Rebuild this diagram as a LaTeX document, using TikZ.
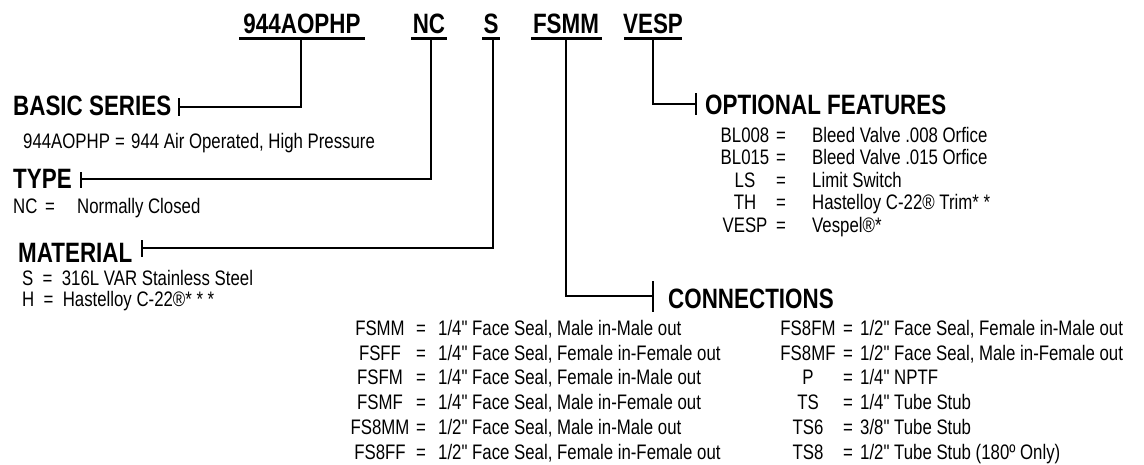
\documentclass[tikz,border=0pt]{standalone}
\usepackage{fontspec}
\setmainfont{Liberation Sans}[FakeStretch=0.8,Ligatures=TeXOff]
\begin{document}
\begin{tikzpicture}[x=1pt,y=-1pt,
  hdr/.style={font=\fontsize{28}{30}\selectfont\bfseries,inner sep=0pt,anchor=base west},
  code/.style={font=\fontsize{28}{30}\selectfont\bfseries,inner sep=0pt,anchor=base},
  txt/.style={font=\fontsize{21}{24}\selectfont,inner sep=0pt,anchor=base west},
  ln/.style={line width=1.5pt},
  uline/.style={line width=2.4pt},
  tick/.style={line width=1.8pt}]
\useasboundingbox (0,0) rectangle (1144,464);
\newcommand\crow[7]{%
  \node[txt,anchor=base] (#1c) at (#2,#5) {#6};
  \node[txt,anchor=base] (#1e) at (#3,#5) {=};
  \node[txt,anchor=base west] (#1d) at (#4,#5) {#7};}
% top code
\node[code] (k944) at (302,33) {944AOPHP};
\node[code] (knc) at (429,33) {NC};
\node[code] (ks) at (491,33) {S};
\node[code] (kfsmm) at (566,33) {FSMM};
\node[code] (kvesp) at (653,33) {VESP};
\draw[uline] (239,38.5) -- (365,38.5);
\draw[uline] (411,38.5) -- (447,38.5);
\draw[uline] (482,38.5) -- (500,38.5);
\draw[uline] (531,38.5) -- (602,38.5);
\draw[uline] (624,38.5) -- (682,38.5);
\coordinate (c944) at (301,38.5);
\coordinate (cnc) at (431,38.5);
\coordinate (cs) at (493,38.5);
\coordinate (cfsmm) at (566,38.5);
\coordinate (cvesp) at (653,38.5);
% basic series
\node[hdr] (hbs) at (13,115) {BASIC SERIES};
\coordinate (tbs) at (179,107);
\draw[tick] (179,98) -- (179,116);
\draw[ln] (tbs) -| (c944);
\node[txt] (bsc) at (23,148) {944AOPHP};
\node[txt,anchor=base] (bse) at (120,148) {=};
\node[txt] (bsd) at (131,148) {944 Air Operated, High Pressure};
% type
\node[hdr] (htype) at (13,188) {TYPE};
\coordinate (ttype) at (81,179);
\draw[tick] (81,172) -- (81,188);
\draw[ln] (ttype) -| (cnc);
\node[txt] (ncc) at (13,213) {NC};
\node[txt,anchor=base] (nce) at (50,213) {=};
\node[txt] (ncd) at (77,213) {Normally Closed};
% material
\node[hdr] (hmat) at (18,262) {MATERIAL};
\coordinate (tmat) at (142,248);
\draw[tick] (142,240) -- (142,257);
\draw[ln] (tmat) -| (cs);
\node[txt] (ms) at (22,285) {S\ \ =\ \ 316L VAR Stainless Steel};
\node[txt] (mh) at (22,306) {H\ \ =\ \ Hastelloy C-22®* * *};
% optional features
\node[hdr] (hopt) at (705,114) {OPTIONAL FEATURES};
\coordinate (topt) at (696,104);
\draw[tick] (696,93) -- (696,115);
\draw[ln] (cvesp) |- (topt);
\crow{o1}{745}{781}{812}{142}{BL008}{Bleed Valve .008 Orfice}
\crow{o2}{745}{781}{812}{164.5}{BL015}{Bleed Valve .015 Orfice}
\crow{o3}{745}{781}{812}{187}{LS}{Limit Switch}
\crow{o4}{745}{781}{812}{209.5}{TH}{Hastelloy C-22® Trim* *}
\crow{o5}{745}{781}{812}{232}{VESP}{Vespel®*}
% connections
\node[hdr] (hcon) at (668,308) {CONNECTIONS};
\coordinate (tcon) at (653,296);
\draw[line width=2.4pt] (653,281) -- (653,312);
\draw[ln] (cfsmm) |- (tcon);
\crow{l1}{380}{421}{438}{335}{FSMM}{1/4" Face Seal, Male in-Male out}
\crow{l2}{380}{421}{438}{360}{FSFF}{1/4" Face Seal, Female in-Female out}
\crow{l3}{380}{421}{438}{384.5}{FSFM}{1/4" Face Seal, Female in-Male out}
\crow{l4}{380}{421}{438}{409}{FSMF}{1/4" Face Seal, Male in-Female out}
\crow{l5}{380}{421}{438}{434}{FS8MM}{1/2" Face Seal, Male in-Male out}
\crow{l6}{380}{421}{438}{459}{FS8FF}{1/2" Face Seal, Female in-Female out}
\crow{r1}{808}{848}{860}{335}{FS8FM}{1/2" Face Seal, Female in-Male out}
\crow{r2}{808}{848}{860}{360}{FS8MF}{1/2" Face Seal, Male in-Female out}
\crow{r3}{808}{848}{860}{384.5}{P}{1/4" NPTF}
\crow{r4}{808}{848}{860}{409}{TS}{1/4" Tube Stub}
\crow{r5}{808}{848}{860}{434}{TS6}{3/8" Tube Stub}
\crow{r6}{808}{848}{860}{459}{TS8}{1/2" Tube Stub (180º Only)}
\end{tikzpicture}
\end{document}
